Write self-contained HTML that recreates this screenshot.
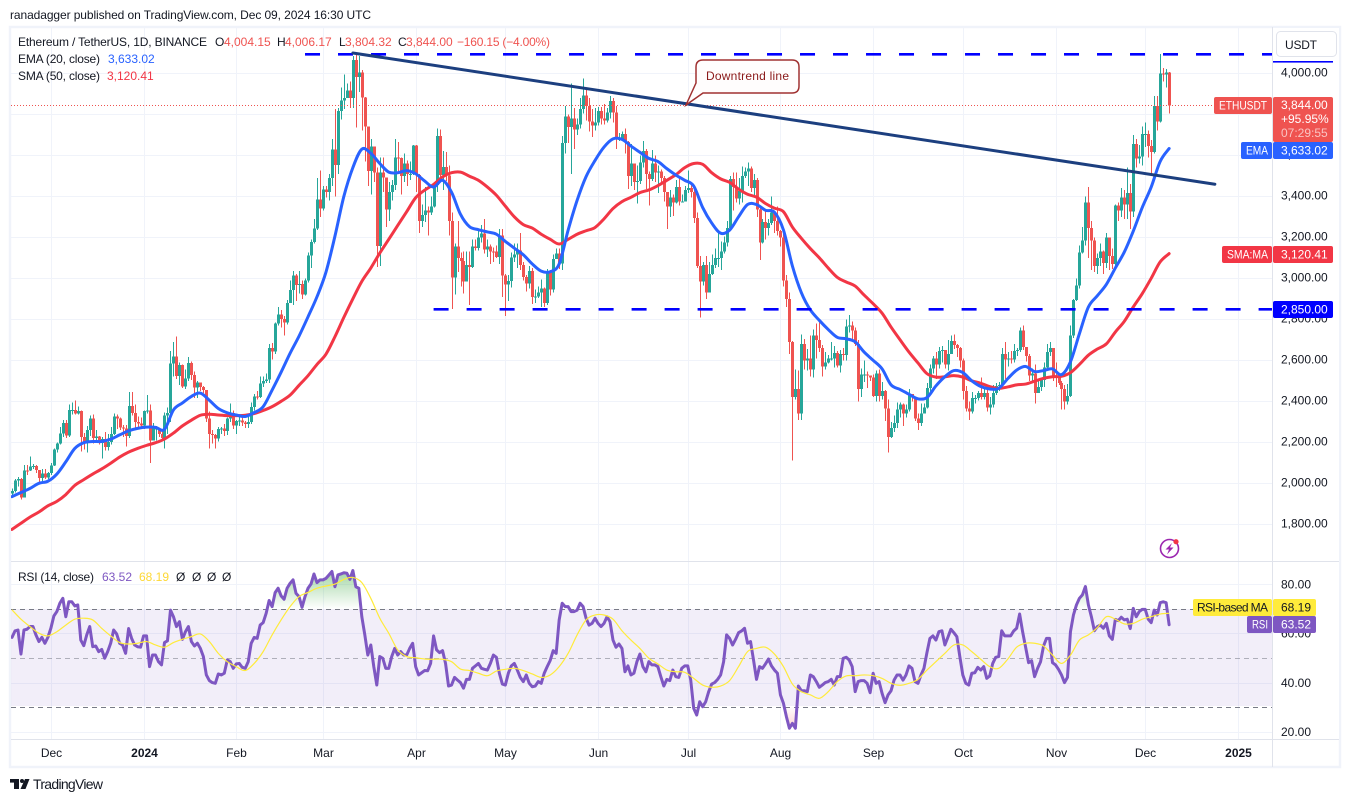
<!DOCTYPE html>
<html lang="en">
<head>
<meta charset="utf-8">
<title>ETHUSDT daily chart</title>
<style>
html,body{margin:0;padding:0;background:#fff;width:1350px;height:802px;overflow:hidden}
svg{display:block;font-family:"Liberation Sans",Arial,sans-serif}
text{font-size:12px;fill:#131722}
</style>
</head>
<body>
<svg id="chart" xmlns="http://www.w3.org/2000/svg" width="1350" height="802" viewBox="0 0 1350 802">
  <defs>
    <clipPath id="mainClip"><rect x="11" y="28" width="1261" height="533"/></clipPath>
    <clipPath id="rsiClip"><rect x="11" y="562" width="1261" height="177"/></clipPath>
    <clipPath id="obClip"><rect x="11" y="562" width="1261" height="47"/></clipPath>
    <clipPath id="osClip"><rect x="11" y="706" width="1261" height="33"/></clipPath>
    <linearGradient id="obGrad" gradientUnits="userSpaceOnUse" x1="0" y1="572" x2="0" y2="609">
      <stop offset="0" stop-color="#4caf50" stop-opacity="0.5"/><stop offset="1" stop-color="#4caf50" stop-opacity="0"/>
    </linearGradient>
    <linearGradient id="osGrad" gradientUnits="userSpaceOnUse" x1="0" y1="706" x2="0" y2="735">
      <stop offset="0" stop-color="#f23645" stop-opacity="0"/><stop offset="1" stop-color="#f23645" stop-opacity="0.3"/>
    </linearGradient>
  </defs>

  <rect x="0" y="0" width="1350" height="802" fill="#ffffff"/>
  <text x="10" y="19" textLength="361" lengthAdjust="spacing">ranadagger published on TradingView.com, Dec 09, 2024 16:30 UTC</text>
  <rect x="10" y="27" width="1330" height="740" fill="#ffffff" stroke="#f0f3fa" stroke-width="2.4"/>

  <g id="grid"></g>
  <rect x="11" y="609" width="1261" height="97" fill="#7e57c2" fill-opacity="0.1"/>
  <g id="rsiLevels"></g>

  <g id="candles" clip-path="url(#mainClip)" shape-rendering="crispEdges"></g>
  <g id="overlays" clip-path="url(#mainClip)"></g>
  <g id="drawings" clip-path="url(#mainClip)"></g>
  <g id="rsiPane" clip-path="url(#rsiClip)"></g>

  <g>
    <path d="M703 60 H792 Q799 60 799 67 V86 Q799 93 792 93 H703 L686 105 L696 83 V67 Q696 60 703 60 Z" fill="#fffdfd" stroke="#a03232" stroke-width="1.5"/>
    <text x="706" y="80" textLength="83" lengthAdjust="spacing" style="fill:#8b1a1a">Downtrend line</text>
  </g>

  <g>
    <text x="18" y="46" textLength="189" lengthAdjust="spacing">Ethereum / TetherUS, 1D, BINANCE</text>
    <text x="215" y="46">O</text>
    <text x="224" y="46" style="fill:#ef5350">4,004.15</text>
    <text x="277" y="46">H</text>
    <text x="285" y="46" style="fill:#ef5350">4,006.17</text>
    <text x="339" y="46">L</text>
    <text x="345" y="46" style="fill:#ef5350">3,804.32</text>
    <text x="398" y="46">C</text>
    <text x="406" y="46" style="fill:#ef5350">3,844.00</text>
    <text x="457" y="46" textLength="93" lengthAdjust="spacing" style="fill:#ef5350">−160.15 (−4.00%)</text>
    <text x="18" y="63" textLength="82" lengthAdjust="spacing">EMA (20, close)</text>
    <text x="108" y="63" style="fill:#2962ff">3,633.02</text>
    <text x="18" y="80" textLength="82" lengthAdjust="spacing">SMA (50, close)</text>
    <text x="107" y="80" style="fill:#f23645">3,120.41</text>
  </g>

  <g>
    <text x="18" y="581" textLength="76" lengthAdjust="spacing">RSI (14, close)</text>
    <text x="102" y="581" style="fill:#7e57c2">63.52</text>
    <text x="139" y="581" style="fill:#fdd835">68.19</text>
    <text x="176" y="581">Ø</text>
    <text x="192" y="581">Ø</text>
    <text x="207" y="581">Ø</text>
    <text x="222" y="581">Ø</text>
  </g>

  <rect x="1272" y="28" width="67" height="711" fill="#ffffff"/>
  <line x1="1272.5" y1="27" x2="1272.5" y2="767" stroke="#e0e3eb"/>
  <line x1="11" y1="561.5" x2="1339" y2="561.5" stroke="#e0e3eb"/>
  <line x1="11" y1="739.5" x2="1339" y2="739.5" stroke="#e0e3eb"/>
  <g id="axisText"></g>

  <rect x="1276.5" y="31.5" width="60" height="25" rx="4" fill="#ffffff" stroke="#e0e3eb"/>
  <text x="1285" y="49" textLength="32" lengthAdjust="spacing">USDT</text>
  <rect x="1273" y="61" width="60" height="1.6" fill="#0000ff"/>

  <g>
    <rect x="1214" y="97" width="58" height="17" rx="2" fill="#ef5350"/>
    <text x="1219" y="109.5" textLength="48" lengthAdjust="spacingAndGlyphs" style="fill:#fff">ETHUSDT</text>
    <rect x="1273" y="97" width="60" height="45" rx="2" fill="#ef5350"/>
    <text x="1281" y="109" style="fill:#fff">3,844.00</text>
    <text x="1281" y="123" style="fill:#fff">+95.95%</text>
    <text x="1281" y="137" style="fill:#fff" fill-opacity="0.65">07:29:55</text>

    <rect x="1241" y="142" width="31" height="17" rx="2" fill="#2962ff"/>
    <text x="1246" y="154.5" textLength="22" lengthAdjust="spacingAndGlyphs" style="fill:#fff">EMA</text>
    <rect x="1273" y="142" width="60" height="17" rx="2" fill="#2962ff"/>
    <text x="1281" y="154.5" style="fill:#fff">3,633.02</text>

    <rect x="1222" y="246" width="50" height="17" rx="2" fill="#f23645"/>
    <text x="1227" y="258.5" textLength="41" lengthAdjust="spacingAndGlyphs" style="fill:#fff">SMA:MA</text>
    <rect x="1273" y="246" width="60" height="17" rx="2" fill="#f23645"/>
    <text x="1281" y="258.5" style="fill:#fff">3,120.41</text>

    <rect x="1273" y="301" width="60" height="17" rx="2" fill="#0000ff"/>
    <text x="1281" y="313.5" style="fill:#fff">2,850.00</text>

    <rect x="1193" y="599" width="79" height="17" rx="2" fill="#ffeb3b"/>
    <text x="1197" y="611.5" textLength="71" lengthAdjust="spacing">RSI-based MA</text>
    <rect x="1273" y="599" width="43" height="17" rx="2" fill="#ffeb3b"/>
    <text x="1281" y="611.5">68.19</text>

    <rect x="1247" y="616" width="25" height="17" rx="2" fill="#7e57c2"/>
    <text x="1252" y="628.5" textLength="16" lengthAdjust="spacingAndGlyphs" style="fill:#fff">RSI</text>
    <rect x="1273" y="616" width="43" height="17" rx="2" fill="#7e57c2"/>
    <text x="1281" y="628.5" style="fill:#fff">63.52</text>
  </g>

  <g>
    <circle cx="1169.5" cy="548.5" r="9" fill="#ffffff" stroke="#9c27b0" stroke-width="1.6"/>
    <polygon points="1172,543 1165.5,549.5 1169,549.5 1167,554.5 1173.5,547.5 1170,547.5" fill="#9c27b0"/>
    <circle cx="1176" cy="541.7" r="2.6" fill="#f23645"/>
  </g>

  <g>
    <rect x="10" y="779" width="9" height="3.6" fill="#131722"/>
    <rect x="14" y="779" width="5" height="10" fill="#131722"/>
    <circle cx="22" cy="781" r="2" fill="#131722"/>
    <polygon points="25,779 29.5,779 25.5,789 20.5,789" fill="#131722"/>
    <text x="33" y="789" textLength="70" lengthAdjust="spacing" style="font-size:14px">TradingView</text>
  </g>
</svg>

<script>
// Candle data: one entry per day from 2023-11-18 to 2024-12-09.
const closes = [
1963,2013,2022,1931,2063,2062,2081,2084,2064,2027,2049,2028,2051,
2087,2165,2193,2243,2293,2232,2358,2358,2341,2352,2225,2202,2260,2316,2220,2229,2196,2217,2177,2201,2240,2326,2316,2273,2268,2230,2378,2344,2300,2292,2281,
2352,2355,2210,2268,2268,2240,2221,2330,2344,2584,2618,2524,2576,2472,2511,2587,2529,2468,2491,2469,2454,2315,2240,2235,2218,2266,2267,2256,2315,2343,2282,
2304,2307,2296,2290,2299,2372,2424,2420,2486,2500,2507,2660,2642,2779,2823,2802,2785,2880,2944,3013,2968,2971,2921,2990,3112,3178,3243,3385,3340,
3433,3421,3489,3628,3553,3817,3868,3880,3917,3880,4066,3981,4005,3883,3741,3523,3644,3517,3157,3517,3492,3336,3420,3454,3590,3588,3500,3560,3508,3508,3647,
3504,3280,3310,3330,3320,3351,3454,3693,3505,3544,3502,3280,3005,3156,3100,3085,2984,3065,3055,3156,3147,3200,3219,3141,3155,3131,3130,3104,3210,3014,
2970,2988,3102,3117,3136,3064,3007,2975,3036,2910,2912,2930,2950,2880,3035,2945,3093,3120,3072,3660,3790,3738,3780,3727,3750,3826,3892,3840,3765,3746,3760,
3815,3780,3770,3810,3866,3810,3680,3680,3705,3666,3500,3560,3470,3475,3565,3620,3510,3485,3560,3515,3520,3490,3420,3350,3395,3370,3445,3375,3375,3430,
3440,3420,3295,3060,2985,3065,2930,3020,3065,3100,3100,3130,3175,3245,3485,3445,3390,3425,3500,3520,3535,3440,3480,3335,3175,3275,3245,3270,3320,3280,3230,
3200,2990,2900,2690,2420,2460,2340,2680,2600,2610,2555,2720,2700,2660,2570,2590,2610,2610,2635,2575,2630,2625,2765,2770,2745,2680,2460,2530,2530,2525,2515,
2425,2535,2425,2450,2365,2225,2270,2295,2360,2385,2340,2360,2435,2420,2315,2295,2340,2370,2465,2560,2610,2580,2645,2650,2580,2630,2695,2675,2660,2600,
2450,2365,2350,2415,2415,2440,2420,2440,2370,2385,2440,2475,2480,2630,2605,2610,2605,2645,2650,2745,2665,2620,2525,2535,2440,2470,2505,2565,2640,2660,2520,
2515,2490,2460,2400,2425,2720,2895,2965,3125,3185,3370,3245,3185,3060,3100,3130,3075,3200,3110,3070,3355,3330,3395,3360,3415,3325,3655,3585,3595,3705,
3705,3645,3615,3840,3765,4000,3995,4005,3844];
const highs = [
1975,2020,2030,2025,2090,2090,2130,2095,2090,2065,2070,2070,2055,
2100,2170,2200,2275,2310,2310,2385,2395,2405,2375,2355,2245,2280,2330,2335,2260,2230,2225,2250,2240,2275,2340,2335,2320,2285,2285,2445,2445,2385,2325,2320,
2355,2430,2385,2295,2280,2270,2260,2345,2370,2645,2690,2715,2590,2580,2555,2615,2595,2545,2500,2480,2475,2455,2350,2260,2240,2275,2275,2290,2320,2390,2355,
2310,2330,2320,2305,2335,2395,2435,2450,2520,2520,2535,2680,2685,2785,2860,2845,2815,2895,2990,3035,3020,3035,2990,3000,3125,3190,3290,3490,3525,
3450,3450,3510,3680,3825,3830,3930,3995,3950,3960,4085,4093,4085,4015,3885,3650,3680,3615,3540,3590,3590,3490,3470,3480,3680,3665,3590,3610,3575,3570,3650,
3650,3510,3360,3445,3350,3400,3460,3730,3725,3620,3615,3550,3320,3170,3280,3125,3130,3130,3130,3190,3190,3240,3260,3290,3190,3165,3150,3160,3240,3240,
3020,3015,3125,3170,3170,3220,3080,3015,3060,3050,2945,2960,2995,2955,3045,3040,3115,3145,3145,3695,3840,3800,3950,3830,3780,3880,3975,3930,3880,3825,3830,
3835,3835,3850,3830,3890,3880,3840,3710,3715,3730,3670,3655,3560,3550,3600,3670,3630,3520,3625,3600,3550,3530,3500,3420,3430,3410,3480,3490,3410,3450,
3525,3465,3430,3320,3110,3080,3110,3080,3115,3145,3220,3180,3205,3280,3500,3515,3515,3490,3545,3540,3565,3545,3510,3490,3345,3290,3330,3290,3400,3320,3350,
3235,3215,3015,2930,2695,2555,2550,2725,2705,2655,2720,2750,2780,2785,2675,2640,2625,2690,2670,2645,2650,2660,2800,2820,2790,2760,2700,2560,2600,2545,2525,
2530,2550,2555,2495,2455,2410,2300,2330,2395,2395,2390,2385,2460,2420,2420,2340,2390,2390,2490,2580,2620,2640,2665,2670,2650,2700,2720,2725,2680,2665,
2610,2475,2400,2445,2430,2450,2515,2470,2465,2420,2480,2490,2495,2660,2690,2640,2645,2680,2660,2760,2770,2650,2630,2560,2580,2500,2510,2590,2680,2690,2660,
2590,2520,2500,2480,2485,2770,2900,3000,3160,3250,3400,3445,3280,3200,3120,3170,3135,3220,3160,3145,3360,3370,3440,3430,3540,3460,3700,3680,3650,3740,
3760,3720,3675,3890,3890,4093,4025,4020,4006];
const lows = [
1930,1955,1985,1920,1930,2040,2060,2070,2050,2005,2000,2020,2020,
2040,2085,2150,2190,2225,2220,2225,2335,2335,2335,2155,2165,2150,2230,2195,2210,2190,2120,2160,2160,2190,2235,2265,2260,2225,2180,2220,2330,2270,2265,2265,
2265,2340,2100,2210,2210,2225,2205,2170,2240,2300,2520,2510,2480,2465,2460,2500,2505,2415,2415,2450,2440,2300,2170,2195,2170,2205,2240,2230,2235,2300,2265,
2240,2280,2280,2270,2270,2290,2355,2410,2415,2470,2490,2490,2605,2630,2770,2760,2720,2775,2880,2870,2890,2925,2900,2915,2980,3050,3170,3235,3300,
3330,3395,3380,3450,3400,3510,3775,3825,3885,3830,3830,3735,3910,3720,3570,3450,3410,3470,3055,3060,3420,3250,3280,3380,3430,3520,3410,3470,3450,3480,3505,
3420,3220,3250,3275,3210,3310,3345,3420,3480,3430,3475,3210,2850,2920,3030,2960,2925,2990,2870,3050,3135,3135,3175,3120,3105,3070,3080,3100,3070,2910,
2815,2890,2955,3080,3050,3040,2990,2935,2950,2875,2880,2905,2860,2860,2870,2915,2930,3095,3045,3040,3610,3660,3510,3630,3700,3730,3805,3770,3715,3690,3720,
3745,3750,3750,3760,3780,3760,3630,3670,3670,3610,3435,3450,3430,3365,3460,3540,3435,3355,3475,3470,3415,3470,3375,3240,3300,3305,3365,3355,3370,3375,
3415,3395,3270,3050,2810,2965,2900,2955,3015,3050,3055,3040,3120,3155,3230,3330,3370,3360,3370,3490,3450,3420,3400,3300,3090,3170,3190,3210,3260,3220,3210,
3155,2960,2860,2630,2111,2410,2310,2310,2555,2550,2520,2515,2610,2640,2520,2555,2585,2600,2565,2565,2540,2600,2600,2735,2690,2670,2400,2420,2495,2465,2500,
2420,2400,2400,2410,2305,2150,2220,2250,2270,2320,2280,2320,2350,2400,2305,2260,2280,2340,2365,2440,2535,2510,2560,2590,2560,2550,2630,2655,2615,2565,
2410,2350,2310,2340,2390,2405,2410,2410,2350,2335,2370,2430,2450,2470,2510,2570,2585,2590,2620,2640,2650,2595,2500,2500,2390,2440,2450,2470,2560,2620,2500,
2470,2480,2360,2360,2385,2420,2710,2890,2950,3120,3160,3100,3040,3030,3020,3060,3020,3050,3040,3045,3040,3280,3300,3290,3290,3240,3300,3540,3560,3550,
3640,3590,3500,3610,3720,3760,3960,3930,3804];
const firstOpen = 1950;

// EMA 20 and SMA 50, read every third candle.
const emaValues = [1935,1955,1975,2000,2010,2045,2105,2170,2198,2204,2204,2215,2236,2256,2268,2274,2273,2263,2358,2392,2424,2440,2405,2365,2344,2333,2326,2345,2374,2455,2542,2634,2718,2812,2910,3030,3205,3400,3540,3630,3610,3560,3518,3515,3525,3510,3475,3445,3478,3420,3312,3252,3237,3226,3215,3180,3147,3115,3070,3035,3032,3070,3235,3380,3496,3575,3640,3680,3678,3645,3615,3585,3570,3535,3504,3478,3450,3345,3270,3220,3235,3300,3360,3360,3332,3322,3236,3060,2930,2846,2795,2750,2712,2705,2690,2640,2600,2558,2480,2458,2434,2412,2418,2475,2520,2550,2540,2500,2472,2460,2463,2510,2552,2570,2545,2550,2558,2530,2593,2730,2860,2915,2970,3050,3128,3230,3345,3445,3570,3633.02];
const smaValues = [1775,1805,1835,1860,1890,1912,1945,1990,2018,2045,2070,2098,2128,2152,2170,2185,2198,2216,2245,2280,2308,2332,2337,2333,2330,2330,2332,2340,2355,2374,2400,2430,2478,2525,2580,2630,2715,2810,2900,2985,3050,3123,3190,3258,3325,3393,3430,3458,3495,3515,3518,3498,3478,3445,3405,3352,3300,3262,3245,3215,3190,3167,3190,3215,3232,3248,3290,3340,3374,3395,3418,3431,3452,3478,3505,3540,3560,3556,3515,3485,3468,3435,3410,3396,3365,3342,3325,3250,3195,3145,3100,3050,3005,2982,2962,2918,2876,2830,2762,2700,2640,2587,2535,2518,2520,2525,2518,2500,2488,2472,2463,2470,2480,2484,2498,2512,2520,2522,2540,2580,2625,2655,2680,2738,2790,2860,2925,3000,3080,3120.41];

// RSI 14, one value per candle, and its moving average read every third candle.
const rsiValues = [
58.4,61,61.4,51.6,61.4,61.7,62.8,62.8,59.4,56.7,58.4,56,58.4,62.1,67.1,68.9,72.3,74.3,66.8,72.9,72.9,71.2,71.6,57.3,55,59.4,62.8,54.6,54.9,52.6,53.5,49.9,52.6,56,61.4,59.8,56,55.3,51.9,62,58,55.3,54.6,54.4,59,59,46.5,51.2,51.2,48.5,47.2,56.3,57,69.5,66.8,62.8,64.8,57.6,60.7,62.8,56.7,54.9,56,53.9,50.6,43.1,40.8,40,39.7,43.5,43.1,43.8,49.2,48.5,45.8,47.6,47.8,46.2,45.8,48.5,56,58.4,58,63.4,64.4,68.2,73.4,70.9,76.6,78.4,75.3,73.9,78.4,80.4,81.8,76.3,75,70.6,75,78.4,80.1,84.2,80.7,81.8,81.8,82.4,83.8,85.2,79,83.8,84.2,84.7,84.5,82,85.6,79,78.4,66.8,59.4,51.2,55.3,46.5,39,50.6,49.9,45.8,45.8,50.6,53.9,51.2,52.6,51.2,51.2,53.9,56,46.5,43.1,44,44.9,44.8,47.8,59,53.3,52.2,53,47.8,38.6,
39,42.1,41,40,37.7,41.3,41.3,45.8,46.8,47.8,45.8,45.4,45.1,47.8,51.2,50.3,43.8,39.4,39,43.8,46.8,47.8,45.1,42.1,40.4,43.1,39.7,38.3,38.6,40.4,39.7,43.8,46.5,49,53,51.9,65.5,72.3,70.9,70.9,68.9,68.9,69.5,72.3,70.9,66.2,63.4,64.1,66.2,64.1,62.8,64.1,66.8,64.8,57.3,54.4,55.7,53.9,44.4,46.8,43.1,43.8,48.5,51.6,46.5,44.4,48.5,47.2,47.2,46.5,42.4,38.6,41.3,40.8,45.1,42.4,42.1,45.8,46.8,46.8,41,29.5,26.8,32.2,30.2,32.2,36.3,39.4,40,41.3,43.1,48.5,59.4,58,55.3,57.6,60.3,61,62.1,56,56.7,49.2,41.3,46.5,45.8,47.6,49.6,46.8,45.1,43.8,35,31.6,26.1,21.4,23.4,21.4,38.6,36.7,36.7,36.3,43.1,42.4,40.4,38.1,39,40,40.4,41.3,39,42.4,42.4,49.9,50.3,49.2,46.5,36.3,40.4,40.8,40.8,39.7,35.9,43.8,39.7,40.4,35.6,31.8,35,36.7,41,43.1,
43.1,41,43.1,46.8,45.8,40.4,39.7,43.1,45.8,52.2,58,59,57.3,60.7,61.1,55.3,58.4,61.7,60.3,58.7,50.6,43.1,39.7,39,43.8,44,46.2,45.1,46.5,41.7,42.7,47.8,50.3,50.6,61.1,59,59,59,61,62.1,67.9,60.7,54.4,48.1,48.9,42.4,45.8,48.5,54.9,58,58,48.1,47.2,45.4,43.1,40,42.1,60.7,67.5,71.6,74.3,75.7,79.1,71.6,66.8,61.1,62.8,63.4,62.1,64.1,59,57.6,65.7,65.2,66.6,65.5,65.8,62,70.2,66.8,68.9,69.8,69.8,65.8,64.4,69.5,67.5,72.5,72.9,72.5,63.52];
const rsiMaValues = [69.6,65.8,62.8,60.1,59,60.7,63.4,65.8,66.2,65.5,62.1,59,56.3,55.7,56,56.7,55.3,54.4,56.3,57.6,58.7,59.8,56.7,51.9,48.5,46.5,44.9,47.8,52.6,59.4,65.5,70.9,75,76.7,78.4,79.3,80.1,82,82.8,80.7,74.3,66.2,60.1,53.3,50.6,50.1,49.6,49.5,49.5,
48.5,45.5,44.9,43.8,42.8,44.7,45.4,45.8,44.9,43.5,42.1,43.1,46.5,51.9,59.4,65.5,67.5,67.5,65.8,61.1,57.3,53.9,49.9,47.6,45.1,44.4,44.2,41.7,39,38.1,38.6,40.8,46.5,52.6,53.9,54.4,51.6,46.5,39.4,36.3,35,33.6,36.3,40.4,42.7,42.8,43.1,42.8,41.7,39.7,
38.9,39.7,41.3,45.1,48.5,51.9,55.3,55.3,52.6,49.5,46.5,45.8,49.5,54.4,56,56,54.9,51.2,47.8,51.2,57.3,59.4,62.4,66.8,65.8,63.9,64.1,65.8,66.8,67.9,68.19];

// Axis labels and levels.
const priceTicks = [4000,3800,3600,3400,3200,3000,2800,2600,2400,2200,2000,1800];
const rsiTicks = [80,60,40,20];
const rsiBands = [70,50,30];
const timeLabels = ['Dec','2024','Feb','Mar','Apr','May','Jun','Jul','Aug','Sep','Oct','Nov','Dec','2025'];
const timeCandles = [13,44,75,104,135,165,196,226,257,288,318,349,379,410];
const levelPrices = [4093,2850];
const levelStarts = [98,141];
const trendCandles = [114,402.3];
const trendPrices = [4099,3459];
const lastPrice = 3844;

const NS = 'http://www.w3.org/2000/svg';
function xAt(i){ return 12 + 2.99 * i; }
function yPrice(p){ return 73.3 + (4000 - p) * 0.205; }
function yRsi(v){ return 584.3 + (80 - v) * 2.457; }
function make(tag, attrs, parent){
  const el = document.createElementNS(NS, tag);
  for (const k in attrs) el.setAttribute(k, attrs[k]);
  parent.appendChild(el);
  return el;
}
function sampledXY(values, yFn){
  const last = closes.length - 1;
  return values.map(function(v, k){
    return [xAt(k * last / (values.length - 1)), yFn(v)];
  });
}
// Smooth curve through the sampled moving-average values.
function smoothPath(pts){
  let d = 'M' + pts[0][0].toFixed(2) + ' ' + pts[0][1].toFixed(2);
  for (let n = 0; n < pts.length - 1; n++){
    const p0 = pts[Math.max(0, n - 1)], p1 = pts[n], p2 = pts[n + 1], p3 = pts[Math.min(pts.length - 1, n + 2)];
    const c1x = p1[0] + (p2[0] - p0[0]) / 6, c1y = p1[1] + (p2[1] - p0[1]) / 6;
    const c2x = p2[0] - (p3[0] - p1[0]) / 6, c2y = p2[1] - (p3[1] - p1[1]) / 6;
    d += 'C' + c1x.toFixed(2) + ' ' + c1y.toFixed(2) + ' ' + c2x.toFixed(2) + ' ' + c2y.toFixed(2) + ' ' + p2[0].toFixed(2) + ' ' + p2[1].toFixed(2);
  }
  return d;
}
function money(p){
  return p.toLocaleString('en-US', {minimumFractionDigits: 2, maximumFractionDigits: 2});
}

const gridG = document.getElementById('grid');
const axisG = document.getElementById('axisText');
const candleG = document.getElementById('candles');
const overlayG = document.getElementById('overlays');
const drawG = document.getElementById('drawings');
const rsiG = document.getElementById('rsiPane');
const levelG = document.getElementById('rsiLevels');

// Vertical month grid and time labels.
timeLabels.forEach(function(label, n){
  const x = Math.round(xAt(timeCandles[n])) + 0.5;
  const line = make('line', {x1: x, y1: 28, x2: x, y2: 739, stroke: '#f0f3fa'}, gridG);
  
  
  const t = make('text', {x: x, y: 757, 'text-anchor': 'middle'}, axisG);
  
  
  if (/^20/.test(label)) t.setAttribute('font-weight', 'bold');
  t.textContent = label;
});

// Price grid and tick labels.
priceTicks.forEach(function(p){
  const y = Math.round(yPrice(p)) + 0.5;
  const line = make('line', {x1: 11, y1: y, x2: 1272, y2: y, stroke: '#f0f3fa'}, gridG);
  
  
  const t = make('text', {x: 1281, y: yPrice(p) + 3.2}, axisG);
  
  
  t.textContent = money(p);
});

// RSI grid and tick labels.
rsiTicks.forEach(function(v){
  const y = Math.round(yRsi(v)) + 0.5;
  const line = make('line', {x1: 11, y1: y, x2: 1272, y2: y, stroke: '#f0f3fa'}, gridG);
  
  
  const t = make('text', {x: 1281, y: yRsi(v) + 4.2}, axisG);
  
  
  t.textContent = v.toFixed(2);
});

// RSI 70 / 50 / 30 dashed levels.
rsiBands.forEach(function(v){
  const y = Math.round(yRsi(v)) + 0.5;
  const line = make('line', {x1: 11, y1: y, x2: 1272, y2: y, stroke: '#787b86', 'stroke-dasharray': '5 4', 'stroke-opacity': v === 50 ? 0.55 : 1}, levelG);
  
  
});

// Candles.
closes.forEach(function(c, i){
  const o = i === 0 ? firstOpen : closes[i - 1];
  const color = c >= o ? '#26a69a' : '#ef5350';
  const x = Math.round(xAt(i));
  const wick = make('rect', {x: x, y: yPrice(highs[i]), width: 1, height: Math.max(1, yPrice(lows[i]) - yPrice(highs[i])), fill: color}, candleG);
  
  
  const top = yPrice(Math.max(o, c));
  const body = make('rect', {x: x - 1, y: top, width: 3, height: Math.max(1, yPrice(Math.min(o, c)) - top), fill: color}, candleG);
  
  
});

// Moving averages.
const smaLine = make('path', {d: smoothPath(sampledXY(smaValues, yPrice)), fill: 'none', stroke: '#f23645', 'stroke-width': 3, 'stroke-linejoin': 'round', 'stroke-linecap': 'round'}, overlayG);


const emaLine = make('path', {d: smoothPath(sampledXY(emaValues, yPrice)), fill: 'none', stroke: '#2962ff', 'stroke-width': 3, 'stroke-linejoin': 'round', 'stroke-linecap': 'round'}, overlayG);



// Last price dotted line.
const lastY = Math.round(yPrice(lastPrice)) + 0.5;
const lastLine = make('line', {x1: 11, y1: lastY, x2: 1214, y2: lastY, stroke: '#ef5350', 'stroke-width': 1, 'stroke-dasharray': '1 2'}, overlayG);



// Horizontal support and resistance.
levelPrices.forEach(function(p, n){
  const y = Math.round(yPrice(p)) + 0.3;
  const line = make('line', {x1: xAt(levelStarts[n]), y1: y, x2: 1272, y2: y, stroke: '#0000ff', 'stroke-width': 2.6, 'stroke-dasharray': '15 18'}, drawG);
  
  
});

// Downtrend line.
const trend = make('line', {x1: xAt(trendCandles[0]), y1: yPrice(trendPrices[0]), x2: xAt(trendCandles[1]), y2: yPrice(trendPrices[1]), stroke: '#1c3f7f', 'stroke-width': 3, 'stroke-linecap': 'round'}, drawG);



// RSI pane.
const rsiPts = rsiValues.map(function(v, i){ return xAt(i * (closes.length - 1) / (rsiValues.length - 1)).toFixed(2) + ',' + yRsi(v).toFixed(2); });
const first = rsiPts[0].split(',')[0];
const lastX = rsiPts[rsiPts.length - 1].split(',')[0];
const y70 = yRsi(70).toFixed(2);
const y30 = yRsi(30).toFixed(2);
const ob = make('polygon', {points: first + ',' + y70 + ' ' + rsiPts.join(' ') + ' ' + lastX + ',' + y70, fill: 'url(#obGrad)', 'clip-path': 'url(#obClip)'}, rsiG);


const os = make('polygon', {points: first + ',' + y30 + ' ' + rsiPts.join(' ') + ' ' + lastX + ',' + y30, fill: 'url(#osGrad)', 'clip-path': 'url(#osClip)'}, rsiG);


const rsiLine = make('polyline', {points: rsiPts.join(' '), fill: 'none', stroke: '#7e57c2', 'stroke-width': 3, 'stroke-linejoin': 'round', 'stroke-linecap': 'round'}, rsiG);


const maLine = make('path', {d: smoothPath(sampledXY(rsiMaValues, yRsi)), fill: 'none', stroke: '#ffeb3b', 'stroke-width': 1.2, 'stroke-linejoin': 'round'}, rsiG);


</script>
</body>
</html>
